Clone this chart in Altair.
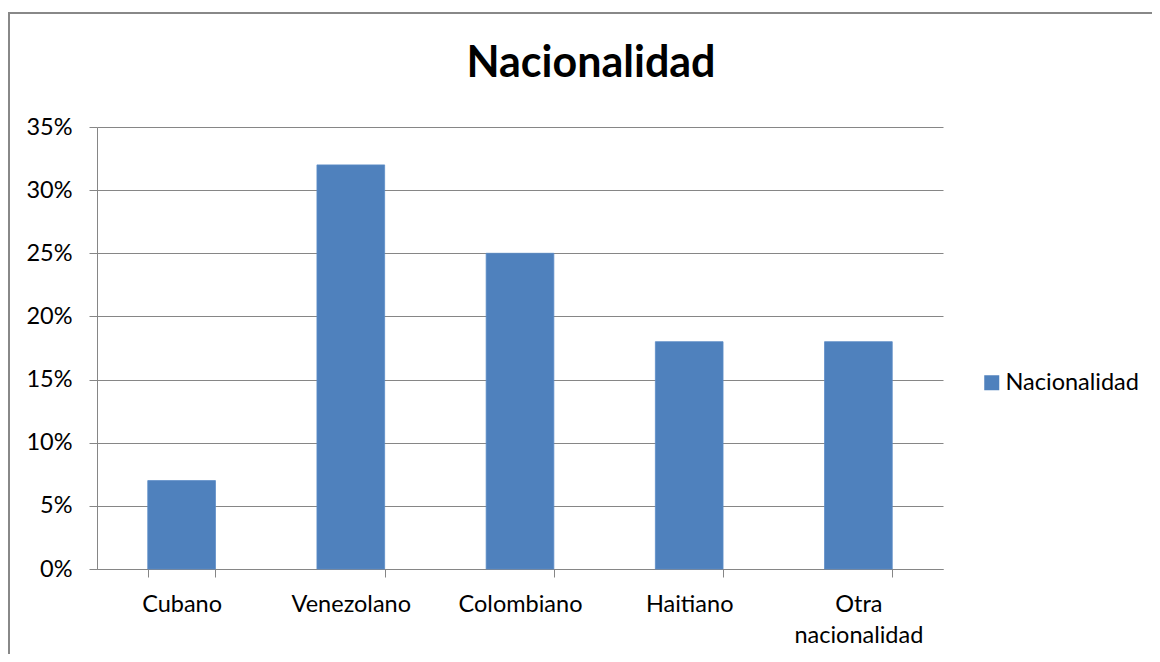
import altair as alt
import pandas as pd

categories = ["Cubano", "Venezolano", "Colombiano", "Haitiano", "Otra nacionalidad"]
values = [0.07, 0.32, 0.25, 0.18, 0.18]
series_name = "Nacionalidad"
y_ticks = [0, 0.05, 0.10, 0.15, 0.20, 0.25, 0.30, 0.35]

df = pd.DataFrame({"cat": categories, "val": values, "serie": [series_name] * len(categories)})

FONT = "Lato"
GRAY = "#868686"

bars = alt.Chart(df).mark_bar(color="#4F81BD", stroke="#5B8CC6", strokeWidth=0.8).encode(
    x=alt.X("cat:N", sort=None,
            scale=alt.Scale(paddingInner=0.6, paddingOuter=0.3),
            axis=alt.Axis(title=None, labelAngle=0, tickBand="extent", tickSize=8,
                          tickColor=GRAY, domainColor=GRAY, labelFontSize=23.5,
                          labelFont=FONT, labelColor="#000000", labelPadding=15,
                          labelExpr="split(datum.label, ' ')", labelLineHeight=31)),
    y=alt.Y("val:Q", scale=alt.Scale(domain=[0, 0.35], nice=False),
            axis=alt.Axis(title=None, values=y_ticks, format=".0%", tickSize=8,
                          tickColor=GRAY, domainColor=GRAY, gridColor=GRAY,
                          labelFontSize=23.5, labelFont=FONT, labelColor="#000000",
                          labelPadding=17)),
    color=alt.Color("serie:N", scale=alt.Scale(range=["#4F81BD"]),
                    legend=alt.Legend(title=None, orient="none", legendX=883, legendY=244,
                                      symbolType="square", symbolSize=225,
                                      symbolStrokeWidth=0, labelFontSize=23.5,
                                      labelFont=FONT, labelColor="#000000",
                                      labelOffset=2, padding=0)),
)

border_df = pd.DataFrame({"k": [0]})
border = alt.Chart(border_df).mark_rect(filled=False, stroke="#888888", strokeWidth=2).encode(
    x=alt.value(-88), x2=alt.value(1300), y=alt.value(-114), y2=alt.value(800)
)

chart = alt.layer(bars, border).properties(
    width=846, height=442,
    autosize="none",
    padding={"left": 89, "top": 119, "right": 209, "bottom": 85},
    title=alt.TitleParams("Nacionalidad", font=FONT, fontSize=43, fontWeight="bold",
                          color="#000000", anchor="middle", dx=71, baseline="alphabetic",
                          offset=0, dy=108),
).configure_view(stroke=None)

chart.save("out.html", embed_options={"renderer": "svg", "actions": False})
